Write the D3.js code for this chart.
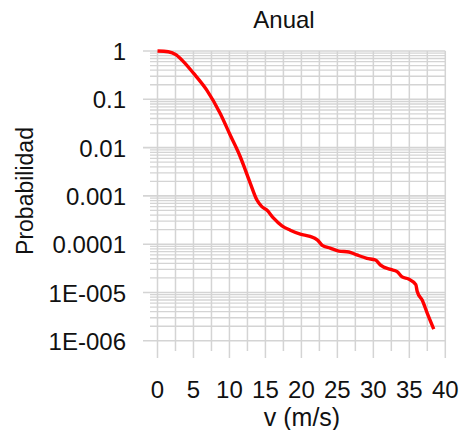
<!DOCTYPE html>
<html><head><meta charset="utf-8">
<script src="https://cdn.jsdelivr.net/npm/d3@7"></script>
<style>body{margin:0;background:#fff}svg{display:block}text{font-family:"Liberation Sans",Arial,sans-serif;fill:#111}</style>
</head><body>
<svg id="c" width="462" height="430"></svg>
<script>
const title = "Anual";
const xTitle = "v (m/s)";
const yTitle = "Probabilidad";
const speeds = [0,1.5,2.6,3.6,5.0,6.85,8.7,10.1,11.5,12.2,12.9,13.8,14.5,15.2,16.1,17.3,18.45,19.85,21.2,22.2,22.9,24.0,25.2,26.6,27.7,29.1,30.3,31.0,32.4,33.3,34.0,34.9,35.9,36.1,36.8,37.5,38.4];
const probs = [1,0.966,0.832,0.603,0.347,0.155,0.0513,0.0182,0.00646,0.00347,0.00182,8.3e-4,6.0e-4,5.1e-4,3.5e-4,2.4e-4,1.95e-4,1.62e-4,1.45e-4,1.23e-4,9.5e-5,8.3e-5,7.2e-5,6.9e-5,6.0e-5,5.1e-5,4.7e-5,3.7e-5,3.0e-5,2.7e-5,2.1e-5,1.9e-5,1.45e-5,1.05e-5,6.9e-6,3.7e-6,1.74e-6];
const xTickValues = [0,5,10,15,20,25,30,35,40];
const xMinorValues = [2.5,7.5,12.5,17.5,22.5,27.5,32.5,37.5];
const yTickValues = [1,0.1,0.01,0.001,0.0001,1e-5,1e-6];
const yTickLabels = ["1","0.1","0.01","0.001","0.0001","1E-005","1E-006"];

const svg = d3.select("#c");
const x = d3.scaleLinear().domain([0,40]).range([157.5,445.3]);
const y = d3.scaleLog().domain([1e-6,1]).range([340.8,51]);

const gridColor = "#d4d4d4";
const yMinor = [];
for (let e=-6; e<0; e++) for (let k=2;k<10;k++) yMinor.push(k*Math.pow(10,e));
const g = svg.append("g");
g.selectAll(".ym").data(yMinor).join("line")
  .attr("x1",150).attr("x2",x(40)).attr("y1",d=>y(d)).attr("y2",d=>y(d))
  .attr("stroke",gridColor).attr("stroke-width",1.3);
g.selectAll(".yM").data(yTickValues).join("line")
  .attr("x1",143).attr("x2",x(40)).attr("y1",d=>y(d)).attr("y2",d=>y(d))
  .attr("stroke",gridColor).attr("stroke-width",1.6);
g.selectAll(".xm").data(xMinorValues).join("line")
  .attr("x1",d=>x(d)).attr("x2",d=>x(d)).attr("y1",y(1)).attr("y2",351)
  .attr("stroke",gridColor).attr("stroke-width",1.5);
g.selectAll(".xM").data(xTickValues).join("line")
  .attr("x1",d=>x(d)).attr("x2",d=>x(d)).attr("y1",y(1)).attr("y2",358)
  .attr("stroke",gridColor).attr("stroke-width",1.5);

svg.selectAll(".xl").data(xTickValues).join("text")
  .attr("x",d=>x(d)).attr("y",398).attr("text-anchor","middle")
  .attr("font-size",24).text(d=>d);
svg.selectAll(".yl").data(yTickValues).join("text")
  .attr("x",126).attr("y",d=>y(d)+9).attr("text-anchor","end")
  .attr("font-size",24).text((d,i)=>yTickLabels[i]);

const line = d3.line().x((d,i)=>x(speeds[i])).y(d=>y(d)).curve(d3.curveMonotoneX);
svg.append("path").datum(probs).attr("d",line)
  .attr("fill","none").attr("stroke","#ff0000").attr("stroke-width",3.4);

svg.append("text").attr("x",284).attr("y",28).attr("text-anchor","middle").attr("font-size",24).text(title);
svg.append("text").attr("x",302).attr("y",426).attr("text-anchor","middle").attr("font-size",25).text(xTitle);
svg.append("text").attr("transform","translate(33,191) rotate(-90)").attr("text-anchor","middle").attr("font-size",23).text(yTitle);
</script>
</body></html>
